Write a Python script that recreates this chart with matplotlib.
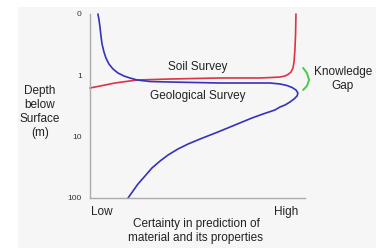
import matplotlib
matplotlib.use("Agg")
import matplotlib.pyplot as plt
from matplotlib.patches import Rectangle

plt.rcParams['font.family'] = ['Liberation Sans', 'DejaVu Sans']

# depth axis: tick positions (log-like index) and labels
depth_ticks = [0, 1, 2, 3]
depth_labels = ["0", "1", "10", "100"]

# certainty (0 = Low, 1 = High) vs depth index
geo_x = [0.037, 0.042, 0.047, 0.051, 0.056, 0.065, 0.074, 0.088, 0.107, 0.130,
         0.158, 0.186, 0.219, 0.279, 0.372, 0.605, 0.837, 0.884, 0.916, 0.940,
         0.958, 0.967, 0.963, 0.949, 0.930, 0.907, 0.884, 0.860, 0.805, 0.753,
         0.674, 0.595, 0.512, 0.456, 0.409, 0.363, 0.326, 0.288, 0.256, 0.223,
         0.200, 0.177]
geo_y = [0.0, 0.098, 0.228, 0.359, 0.489, 0.620, 0.717, 0.815, 0.897, 0.962,
         1.011, 1.044, 1.076, 1.101, 1.109, 1.125, 1.125, 1.141, 1.166, 1.198,
         1.239, 1.288, 1.337, 1.386, 1.435, 1.484, 1.516, 1.565, 1.630, 1.696,
         1.810, 1.924, 2.038, 2.120, 2.201, 2.299, 2.397, 2.511, 2.641, 2.772,
         2.886, 3.0]

soil_x = [0.0, 0.047, 0.116, 0.219, 0.372, 0.605, 0.791, 0.847, 0.884, 0.907,
          0.921, 0.935, 0.944, 0.949, 0.953, 0.956, 0.958]
soil_y = [1.207, 1.174, 1.125, 1.076, 1.060, 1.043, 1.043, 1.035, 1.027, 1.011,
          0.986, 0.946, 0.880, 0.783, 0.587, 0.342, 0.0]

gap_x = [0.991, 1.009, 1.019, 1.009, 0.991]
gap_y = [0.880, 0.962, 1.076, 1.174, 1.239]

fig = plt.figure(figsize=(3.89, 2.48), dpi=100)
fig.patch.set_facecolor("white")
fig.patches.append(Rectangle((18/389, 0), (376-18)/389, (248-7)/248,
                             transform=fig.transFigure, facecolor="#f6f6f6",
                             edgecolor="none", zorder=-5))

ax = fig.add_axes([90/389, 50/248, 215/389, 184/248])
ax.set_facecolor("none")
ax.set_xlim(0, 1)
ax.set_ylim(3, 0)

ax.plot(soil_x, soil_y, color="#dd3344", lw=1.2, solid_capstyle="round",
        solid_joinstyle="round", clip_on=False)
ax.plot(geo_x, geo_y, color="#3333bb", lw=1.2, solid_capstyle="round",
        solid_joinstyle="round", clip_on=False)
ax.plot(gap_x, gap_y, color="#44cc44", lw=1.4, solid_capstyle="round",
        solid_joinstyle="round", clip_on=False)

for s in ["top", "right"]:
    ax.spines[s].set_visible(False)
for s in ["left", "bottom"]:
    ax.spines[s].set_color("#aaaaaa")
    ax.spines[s].set_linewidth(1.0)

ax.set_yticks(depth_ticks)
ax.set_yticklabels(depth_labels, fontsize=6, color="#333333")
ax.set_xticks([])
ax.tick_params(axis="y", length=0, pad=6)

ax.text(0.5, 0.87, "Soil Survey", ha="center", va="center", fontsize=8.5, color="#222222")
ax.text(0.5, 1.34, "Geological Survey", ha="center", va="center", fontsize=8.5, color="#222222")

fig.text(343/389, 1 - 79/248, "Knowledge\nGap", ha="center", va="center",
         fontsize=8.5, color="#222222", linespacing=1.15)
fig.text(40/389, 1 - 112/248, "Depth\nbelow\nSurface\n(m)", ha="center", va="center",
         fontsize=8.5, color="#222222", linespacing=1.2)
fig.text(102/389, 1 - 212/248, "Low", ha="center", va="center", fontsize=8.5, color="#222222")
fig.text(286/389, 1 - 212/248, "High", ha="center", va="center", fontsize=8.5, color="#222222")
fig.text(196/389, 1 - 231/248, "Certainty in prediction of\nmaterial and its properties",
         ha="center", va="center", fontsize=8.5, color="#222222", linespacing=1.15)

fig.savefig("out.png", dpi=100)
